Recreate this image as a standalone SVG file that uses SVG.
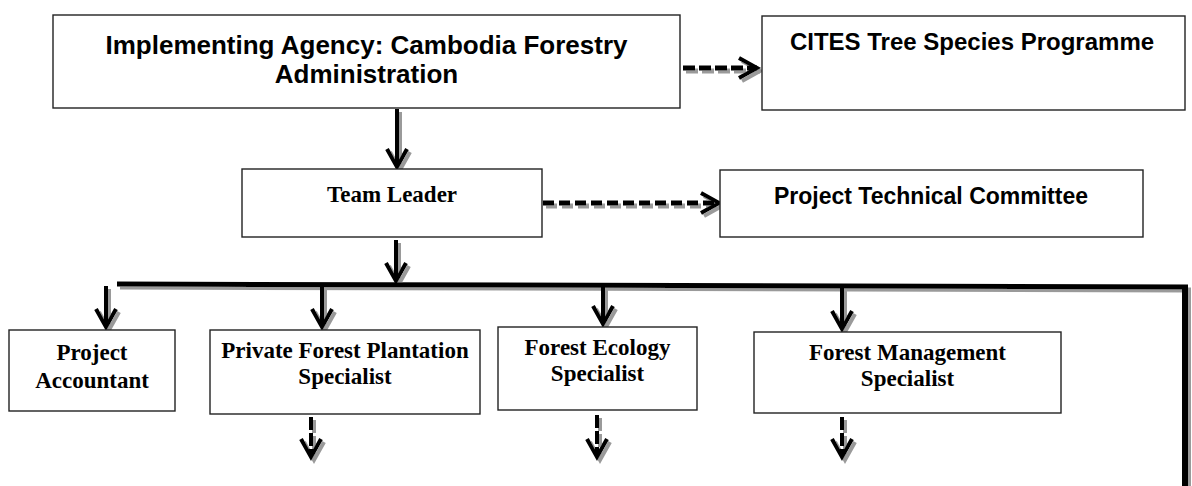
<svg xmlns="http://www.w3.org/2000/svg" width="1192" height="486" viewBox="0 0 1192 486">
<style>
.box{fill:#fff;stroke:#222;stroke-width:1.4}
.sans{font-family:"Liberation Sans",Arial,sans-serif;font-weight:bold;fill:#000;text-anchor:middle}
.serif{font-family:"Liberation Serif","Times New Roman",serif;font-weight:bold;fill:#000;text-anchor:middle;font-size:23px}
.ln{fill:none;stroke:#000;stroke-linecap:butt}
</style>
<defs>
<filter id="sh" filterUnits="userSpaceOnUse" x="0" y="0" width="1192" height="486">
<feOffset in="SourceAlpha" dx="3" dy="3" result="o"/>
<feFlood flood-color="#9a9a9a"/>
<feComposite in2="o" operator="in" result="s"/>
<feMerge><feMergeNode in="s"/><feMergeNode in="SourceGraphic"/></feMerge>
</filter>
<marker id="chev" markerUnits="userSpaceOnUse" markerWidth="30" markerHeight="30" viewBox="0 0 30 30" refX="24" refY="15" orient="auto">
<path d="M6,5 L24,15 L6,25" fill="none" stroke="#000" stroke-width="4"/>
</marker>
</defs>
<rect width="1192" height="486" fill="#fff"/>

<g id="connectors" filter="url(#sh)">
<path class="ln" d="M683,68 L757,68" stroke-width="5" stroke-dasharray="12 4" marker-end="url(#chev)"/>
<path class="ln" d="M543,203 L719,203" stroke-width="5" stroke-dasharray="11 5" marker-end="url(#chev)"/>
<path class="ln" d="M397,109 L397,167" stroke-width="4" marker-end="url(#chev)"/>
<path class="ln" d="M396,240 L396,281" stroke-width="4" marker-end="url(#chev)"/>
<path class="ln" d="M117,284 L1188,287" stroke-width="5"/>
<path class="ln" d="M1185,285 L1185,490" stroke-width="6"/>
<path class="ln" d="M106,286 L106,327" stroke-width="4" marker-end="url(#chev)"/>
<path class="ln" d="M322,286 L322,327" stroke-width="4" marker-end="url(#chev)"/>
<path class="ln" d="M603,287 L603,324" stroke-width="4" marker-end="url(#chev)"/>
<path class="ln" d="M842,287 L842,329" stroke-width="4" marker-end="url(#chev)"/>
<path class="ln" d="M311,417 L311,457" stroke-width="4" stroke-dasharray="13 3" marker-end="url(#chev)"/>
<path class="ln" d="M597,415 L597,457" stroke-width="4" stroke-dasharray="13 3" marker-end="url(#chev)"/>
<path class="ln" d="M842,417 L842,457" stroke-width="4" stroke-dasharray="13 3" marker-end="url(#chev)"/>
</g>

<g id="agency">
<rect class="box" x="53" y="15" width="627" height="93"/>
<text class="sans" font-size="26" x="366.5" y="54">Implementing Agency: Cambodia Forestry</text>
<text class="sans" font-size="26" x="366.5" y="83">Administration</text>
</g>
<g id="cites">
<rect class="box" x="762" y="16" width="423" height="94"/>
<text class="sans" font-size="24" x="972" y="50">CITES Tree Species Programme</text>
</g>
<g id="team-leader">
<rect class="box" x="242" y="169" width="300" height="68"/>
<text class="serif" x="392" y="202">Team Leader</text>
</g>
<g id="ptc">
<rect class="box" x="720" y="170" width="423" height="67"/>
<text class="sans" font-size="23" x="931" y="204">Project Technical Committee</text>
</g>
<g id="accountant">
<rect class="box" x="9" y="330" width="166" height="81"/>
<text class="serif" x="92" y="360">Project</text>
<text class="serif" x="92" y="388">Accountant</text>
</g>
<g id="plantation">
<rect class="box" x="210" y="330" width="270" height="84"/>
<text class="serif" x="345" y="358">Private Forest Plantation</text>
<text class="serif" x="345" y="384">Specialist</text>
</g>
<g id="ecology">
<rect class="box" x="498" y="327" width="199" height="83"/>
<text class="serif" x="597.5" y="355">Forest Ecology</text>
<text class="serif" x="597.5" y="381">Specialist</text>
</g>
<g id="management">
<rect class="box" x="754" y="332" width="307" height="81"/>
<text class="serif" x="907.5" y="360">Forest Management</text>
<text class="serif" x="907.5" y="386">Specialist</text>
</g>
</svg>
